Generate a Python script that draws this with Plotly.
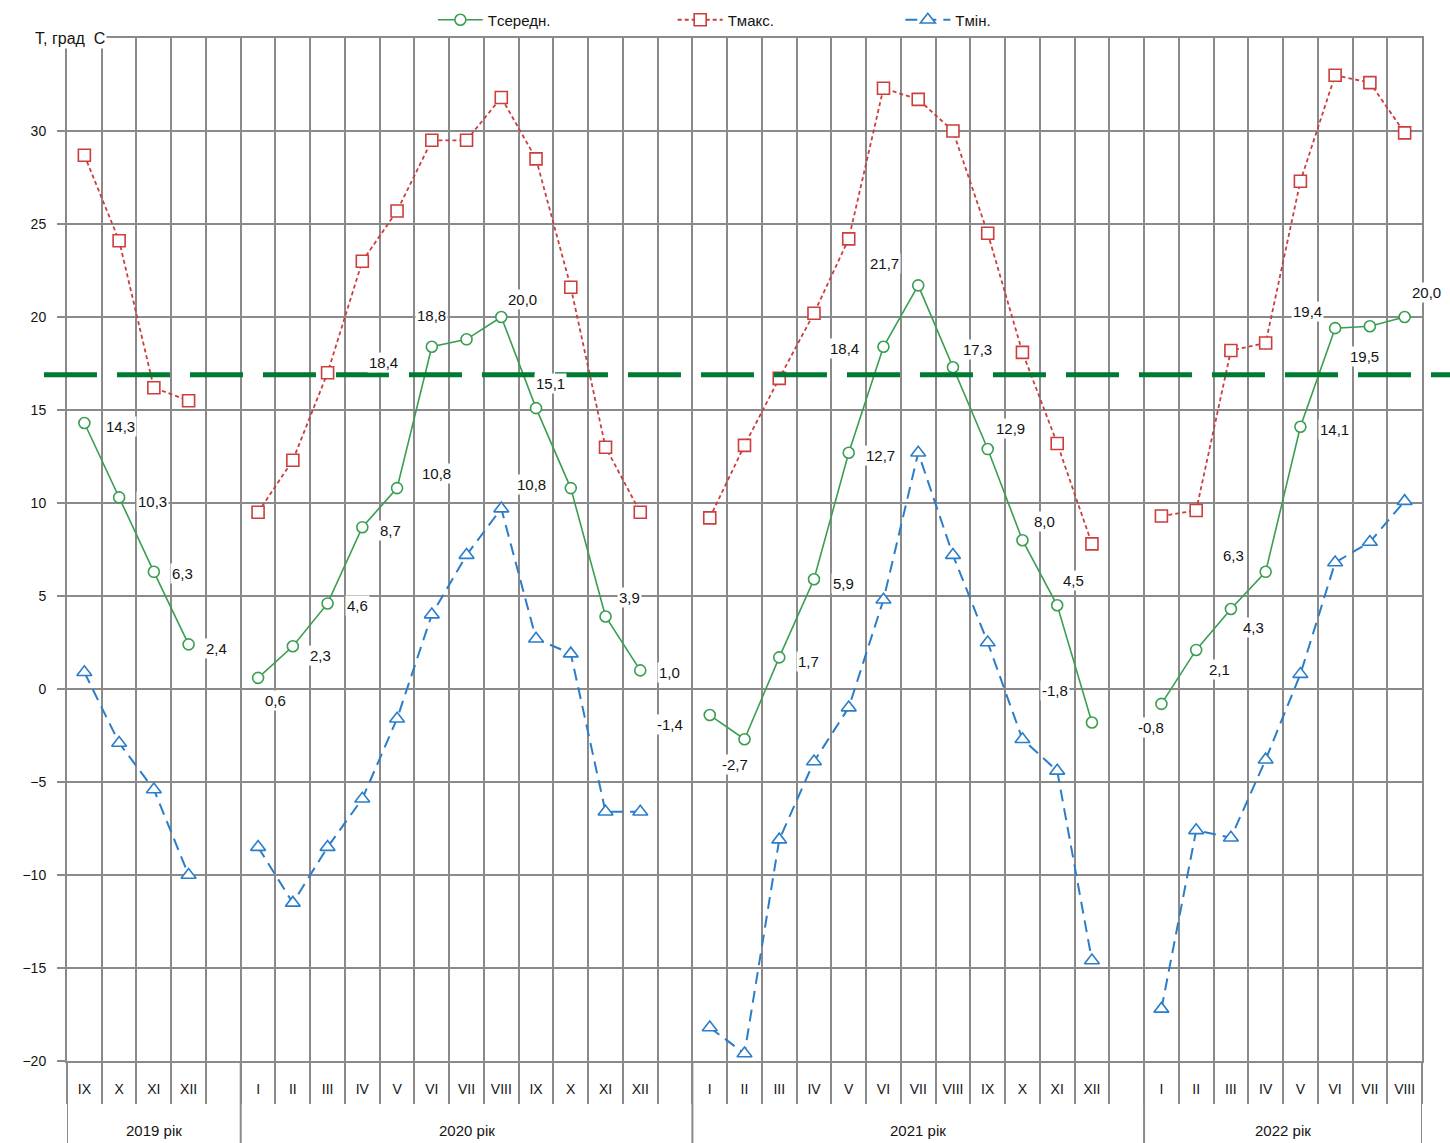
import plotly.graph_objects as go

# ---------------- data ----------------
roman = ["I", "II", "III", "IV", "V", "VI", "VII", "VIII", "IX", "X", "XI", "XII"]
year_labels = ["2019 рік", "2020 рік", "2021 рік", "2022 рік"]
months_2019 = roman[8:]
months_2020 = roman
months_2021 = roman
months_2022 = roman[:8]

t_avg_2019 = [14.3, 10.3, 6.3, 2.4]
t_avg_2020 = [0.6, 2.3, 4.6, 8.7, 10.8, 18.4, 18.8, 20.0, 15.1, 10.8, 3.9, 1.0]
t_avg_2021 = [-1.4, -2.7, 1.7, 5.9, 12.7, 18.4, 21.7, 17.3, 12.9, 8.0, 4.5, -1.8]
t_avg_2022 = [-0.8, 2.1, 4.3, 6.3, 14.1, 19.4, 19.5, 20.0]

t_max_2019 = [28.7, 24.1, 16.2, 15.5]
t_max_2020 = [9.5, 12.3, 17.0, 23.0, 25.7, 29.5, 29.5, 31.8, 28.5, 21.6, 13.0, 9.5]
t_max_2021 = [9.2, 13.1, 16.7, 20.2, 24.2, 32.3, 31.7, 30.0, 24.5, 18.1, 13.2, 7.8]
t_max_2022 = [9.3, 9.6, 18.2, 18.6, 27.3, 33.0, 32.6, 29.9]

t_min_2019 = [0.9, -2.9, -5.4, -10.0]
t_min_2020 = [-8.5, -11.5, -8.5, -5.9, -1.6, 4.0, 7.2, 9.7, 2.7, 1.9, -6.6, -6.6]
t_min_2021 = [-18.2, -19.6, -8.1, -3.9, -1.0, 4.8, 12.7, 7.2, 2.5, -2.7, -4.4, -14.6]
t_min_2022 = [-17.2, -7.6, -8.0, -3.8, 0.8, 6.8, 7.9, 10.1]

threshold = 16.9

y_tickvals = [-20, -15, -10, -5, 0, 5, 10, 15, 20, 25, 30]

# label placement (pixel offsets dx, dy of each Tсередн. value label; styling only)
label_offsets = [
    (36, -3), (33, -4), (29, -2), (28, -4),
    (17, -23), (28, -9), (30, -2), (28, -3), (39, 15), (-48, -16), (-35, 24), (21, 18),
    (14, 25), (-39, 4), (24, 19), (29, -2),
    (-40, -9), (-10, -25), (29, -4), (30, -4), (32, -3), (-39, -2), (-34, 22), (25, 18),
    (23, 21), (22, 19), (16, 25), (-37, 32),
    (-10, -24), (23, -20), (23, -18), (-32, 16), (34, -3), (-28, 17), (-5, -30), (22, 25),
]

# ---------------- assemble ----------------
groups_months = [months_2019, months_2020, months_2021, months_2022]


def join_years(*parts):
    out = []
    for i, p in enumerate(parts):
        out += list(p)
        if i < len(parts) - 1:
            out.append(None)  # blank column between years
    return out


t_avg = join_years(t_avg_2019, t_avg_2020, t_avg_2021, t_avg_2022)
t_max = join_years(t_max_2019, t_max_2020, t_max_2021, t_max_2022)
t_min = join_years(t_min_2019, t_min_2020, t_min_2021, t_min_2022)
month_text = [m if m is not None else "" for m in join_years(*groups_months)]
x = list(range(len(month_text)))

# group boundaries (in category index units)
bounds = [-0.5]
for i, g in enumerate(groups_months):
    size = len(g) + (1 if i < len(groups_months) - 1 else 0)
    bounds.append(bounds[-1] + size)

GRID = "#8a8a8a"
GREEN = "#3a9e52"
RED = "#cc3d3d"
BLUE = "#2a7dc9"
TXT = "#141414"
FONT = "Liberation Sans, Arial, sans-serif"

fig = go.Figure()
fig.add_trace(go.Scatter(
    x=x, y=t_avg, name="Tсередн.", mode="lines+markers",
    line=dict(color=GREEN, width=1.6),
    marker=dict(symbol="circle", size=11, color="white", line=dict(color=GREEN, width=1.6)),
    legend="legend", hoverinfo="y",
))
fig.add_trace(go.Scatter(
    x=x, y=t_max, name="Tмакс.", mode="lines+markers",
    line=dict(color=RED, width=1.8, dash="4px,3px"),
    marker=dict(symbol="square", size=12, color="white", line=dict(color=RED, width=1.6)),
    legend="legend2", hoverinfo="y",
))
fig.add_trace(go.Scatter(
    x=x, y=t_min, name="Tмін.", mode="lines+markers",
    line=dict(color=BLUE, width=2, dash="12px,7px"),
    marker=dict(symbol="triangle-up", size=13, color="white", line=dict(color=BLUE, width=1.6)),
    legend="legend3", hoverinfo="y",
))

annotations = []
k = 0
for xi, v in zip(x, t_avg):
    if v is None:
        continue
    dx, dy = label_offsets[k]
    k += 1
    annotations.append(dict(
        x=xi, y=v, xref="x", yref="y", text=f"{v:.1f}".replace(".", ","),
        showarrow=False, xshift=dx, yshift=dy, bgcolor="white", borderpad=1,
        font=dict(size=15, color=TXT, family=FONT),
    ))

for i, lab in enumerate(year_labels):
    annotations.append(dict(
        x=(bounds[i] + bounds[i + 1]) / 2, y=0, xref="x", yref="paper", yshift=-69,
        text=lab, showarrow=False, yanchor="middle",
        font=dict(size=15, color=TXT, family=FONT),
    ))

annotations.append(dict(
    x=0, y=1, xref="paper", yref="paper", xshift=40, text="T, град\u00a0 C",
    showarrow=False, xanchor="right", yanchor="middle", bgcolor="white",
    font=dict(size=16, color=TXT, family=FONT),
))

shapes = []
for b in bounds:
    shapes.append(dict(type="line", xref="x", yref="paper", x0=b, x1=b, y0=0, y1=-0.1,
                       line=dict(color=GRID, width=2), layer="above"))
shapes.append(dict(type="line", xref="paper", yref="y", x0=-0.017, x1=1.03,
                   y0=threshold, y1=threshold,
                   line=dict(color="#007a33", width=5, dash="53px,20px"), layer="above"))

legend_common = dict(orientation="h", yanchor="middle", y=1.0176, xanchor="left",
                     itemwidth=45, bgcolor="rgba(0,0,0,0)",
                     font=dict(size=15, color=TXT, family=FONT))

fig.update_layout(
    width=1450, height=1143,
    margin=dict(l=67, r=28, t=38, b=82, autoexpand=False),
    paper_bgcolor="white", plot_bgcolor="white",
    font=dict(family=FONT, size=14, color=TXT),
    showlegend=True,
    legend=dict(legend_common, x=0.27),
    legend2=dict(legend_common, x=0.447),
    legend3=dict(legend_common, x=0.615),
    annotations=annotations,
    shapes=shapes,
    xaxis=dict(
        range=[-0.5, len(x) - 0.5], tickmode="array", tickvals=x, ticktext=month_text,
        showgrid=False, zeroline=False, ticks="", ticklabelstandoff=14,
        tickfont=dict(size=14, color=TXT, family=FONT),
        showline=True, linecolor=GRID, linewidth=2, mirror=True,
        minor=dict(tickmode="array", tickvals=[i - 0.5 for i in range(len(x) + 1)],
                   showgrid=True, gridcolor=GRID, gridwidth=2,
                   ticks="outside", ticklen=41, tickcolor=GRID, tickwidth=2),
    ),
    yaxis=dict(
        range=[-20, 35], tickmode="array", tickvals=y_tickvals,
        showgrid=True, gridcolor=GRID, gridwidth=2, zeroline=False,
        ticks="outside", ticklen=8, tickcolor=GRID, tickwidth=2, ticklabelstandoff=8,
        tickfont=dict(size=14, color=TXT, family=FONT),
        showline=True, linecolor=GRID, linewidth=2, mirror=True,
    ),
)

fig.write_html("out.html", config={"displayModeBar": False},
               post_script="document.body.style.margin='0';")
